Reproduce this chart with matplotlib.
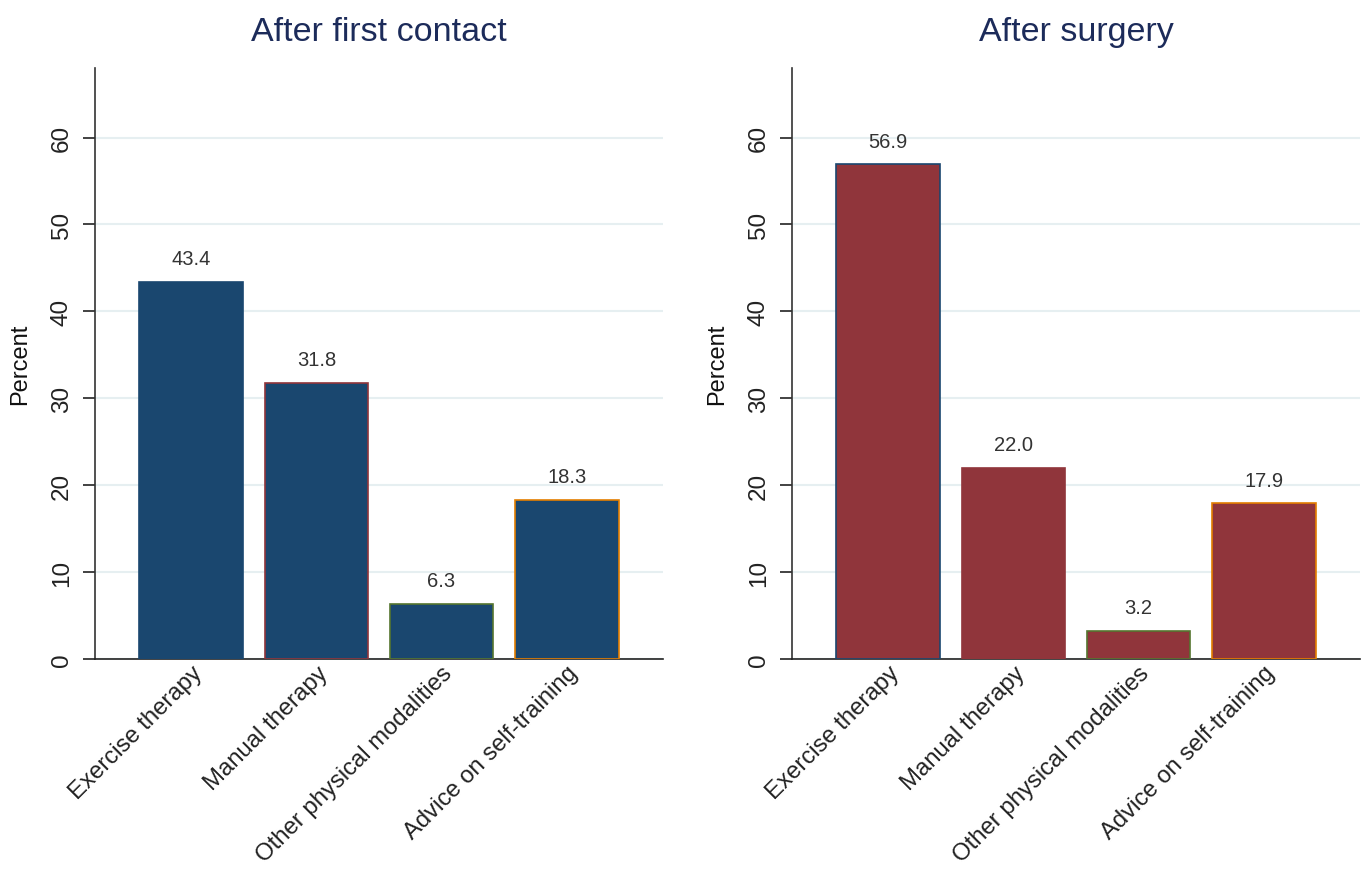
import matplotlib
matplotlib.use("Agg")
import matplotlib.pyplot as plt

plt.rcParams['font.family'] = ['Liberation Sans', 'DejaVu Sans']

categories = ["Exercise therapy", "Manual therapy", "Other physical modalities", "Advice on self-training"]
first_contact = [43.4, 31.8, 6.3, 18.3]
after_surgery = [56.9, 22.0, 3.2, 17.9]
titles = ["After first contact", "After surgery"]
yticks = [0, 10, 20, 30, 40, 50, 60]

fill_colors = ["#1a476f", "#90353b"]
edge_colors = ["#1a476f", "#90353b", "#55752f", "#e37e00"]

fig = plt.figure(figsize=(13.68, 8.70), dpi=100)
W, H = 1368, 870
positions = [95, 792]
ax_w, top, bottom = 568, 69, 660

for idx, (vals, title) in enumerate(zip([first_contact, after_surgery], titles)):
    ax = fig.add_axes([positions[idx] / W, 1 - bottom / H, ax_w / W, (bottom - top) / H])
    x = list(range(len(categories)))
    ax.bar(x, vals, width=0.83, color=fill_colors[idx],
           edgecolor=edge_colors, linewidth=1.2, zorder=3)
    for xi, v in zip(x, vals):
        ax.annotate(f"{v:.1f}", (xi, v), xytext=(0, 10), textcoords="offset points",
                    ha="center", va="bottom", fontsize=14.5, color="#333333")
    ax.set_xlim(-0.77, 3.77)
    ax.set_ylim(0, 68)
    ax.set_yticks(yticks)
    ax.set_yticklabels([str(t) for t in yticks], rotation=90, va="center", fontsize=17.5)
    ax.yaxis.grid(True, color="#e6eff1", linewidth=1.5, zorder=0)
    ax.set_axisbelow(True)
    ax.tick_params(axis="y", length=9, width=1.2, pad=7, colors="#222222")
    ax.tick_params(axis="x", length=0, pad=2)
    ax.set_xticks(x)
    ax.set_xticklabels(categories, rotation=45, ha="right", rotation_mode="anchor",
                       fontsize=17.2, color="#222222")
    for s in ["top", "right"]:
        ax.spines[s].set_visible(False)
    ax.spines["left"].set_color("#333333")
    ax.spines["bottom"].set_color("#222222")
    ax.spines["left"].set_linewidth(1.2)
    ax.spines["bottom"].set_linewidth(1.2)
    ax.set_ylabel("Percent", fontsize=17, labelpad=14, color="#111111")
    ax.set_title(title, fontsize=24.5, color="#1c2b5a", pad=20)

fig.savefig("out.png", dpi=100, facecolor="white")
